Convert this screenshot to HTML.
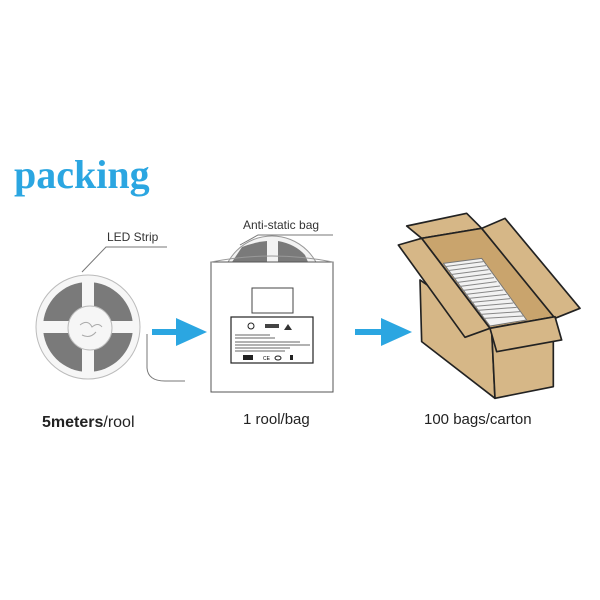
<!DOCTYPE html>
<html><head><meta charset="utf-8"><style>
html,body{margin:0;padding:0;background:#fff;width:600px;height:600px;overflow:hidden}
</style></head><body>
<svg width="600" height="600" viewBox="0 0 600 600" xmlns="http://www.w3.org/2000/svg">
<rect width="600" height="600" fill="#fff"/>
<text x="14" y="188" font-family="Liberation Serif, serif" font-weight="bold" font-size="40" fill="#2ba6e1">packing</text>

<!-- reel -->
<g>
<circle cx="88" cy="327" r="52" fill="#f6f6f6" stroke="#bbb" stroke-width="1"/>
<circle cx="88" cy="327" r="45" fill="#7a7a7a"/>
<rect x="82" y="279" width="12" height="96" fill="#f6f6f6"/>
<rect x="40" y="321" width="96" height="12" fill="#f6f6f6"/>
<circle cx="90" cy="328" r="22" fill="#f6f6f6" stroke="#bbb"/>
<path d="M80 325 q8 -6 12 2 q6 -5 10 0 M82 335 q8 4 14 -3" stroke="#aaa" fill="none"/>
</g>
<text x="107" y="241" font-family="Liberation Sans, sans-serif" font-size="12" fill="#333">LED Strip</text>
<polyline points="82,272 106,247 167,247" fill="none" stroke="#777" stroke-width="1"/>
<path d="M147 334 L147 368 Q148 381 165 381 L185 381" fill="none" stroke="#777" stroke-width="1"/>

<!-- arrow1 -->
<rect x="152" y="329" width="28" height="6" fill="#2ba6e1"/>
<polygon points="176,318 207,332 176,346" fill="#2ba6e1"/>

<!-- bag -->
<circle cx="272" cy="286" r="50" fill="#f3f3f3" stroke="#999"/>
<path d="M232 262 L242 247 Q255 242 267 241 L267 262 Z" fill="#7a7a7a"/>
<path d="M278 262 L278 241 Q295 244 305 255 L308 262 Z" fill="#7a7a7a"/>
<rect x="211" y="262" width="122" height="130" fill="#fff" stroke="#555" stroke-width="1"/>
<path d="M211 262 Q272 250 333 262" fill="none" stroke="#999"/>
<rect x="252" y="288" width="41" height="25" fill="#fff" stroke="#444"/>
<rect x="231" y="317" width="82" height="46" fill="#fff" stroke="#222" stroke-width="1.2"/>
<circle cx="251" cy="326" r="3" fill="none" stroke="#222"/>
<rect x="265" y="324" width="14" height="4" fill="#444"/>
<polygon points="288,324 292,330 284,330" fill="#333"/>
<g stroke="#666" stroke-width="1">
<line x1="235" y1="335" x2="270" y2="335"/><line x1="235" y1="338" x2="275" y2="338"/>
<line x1="235" y1="342" x2="300" y2="342"/><line x1="235" y1="345" x2="310" y2="345"/>
<line x1="235" y1="348" x2="290" y2="348"/><line x1="235" y1="351" x2="285" y2="351"/>
</g>
<rect x="243" y="355" width="10" height="5" fill="#222"/>
<text x="263" y="360" font-size="5" font-family="Liberation Sans, sans-serif">CE</text>
<ellipse cx="278" cy="358" rx="3" ry="2" fill="none" stroke="#222"/>
<rect x="290" y="355" width="3" height="5" fill="#222"/>
<text x="243" y="229" font-family="Liberation Sans, sans-serif" font-size="12" fill="#333">Anti-static bag</text>
<polyline points="240,245 258,235 333,235" fill="none" stroke="#777" stroke-width="1"/>

<!-- arrow2 -->
<rect x="355" y="329" width="28" height="6" fill="#2ba6e1"/>
<polygon points="381,318 412,332 381,346" fill="#2ba6e1"/>

<!-- box -->
<g transform="translate(380,200) scale(0.3333)" stroke="#222" stroke-width="5" stroke-linejoin="round" fill="#d6b787">
<polygon points="120,240 335,390 345,595 125,425"/>
<polygon points="335,390 520,380 520,560 345,595"/>
<polygon points="80,78 260,40 305,85 125,115"/>
<polygon points="125,115 305,85 525,350 330,385" fill="#c9a46d"/>
<polygon points="190,190 305,175 440,360 330,378" fill="#f2f2f2" stroke="#777" stroke-width="3"/>
<g stroke="#888" stroke-width="3">
<line x1="195" y1="200" x2="310" y2="185"/><line x1="203" y1="212" x2="318" y2="197"/>
<line x1="211" y1="224" x2="326" y2="209"/><line x1="219" y1="236" x2="334" y2="221"/>
<line x1="227" y1="248" x2="342" y2="233"/><line x1="235" y1="260" x2="350" y2="245"/>
<line x1="243" y1="272" x2="360" y2="258"/><line x1="251" y1="284" x2="370" y2="270"/>
<line x1="259" y1="296" x2="380" y2="283"/><line x1="267" y1="308" x2="390" y2="296"/>
<line x1="275" y1="320" x2="400" y2="309"/><line x1="283" y1="332" x2="410" y2="322"/>
<line x1="291" y1="344" x2="420" y2="335"/><line x1="299" y1="356" x2="430" y2="348"/>
</g>
<polygon points="55,135 125,115 330,385 255,412"/>
<polygon points="305,85 375,55 600,325 525,355"/>
<polygon points="330,385 525,350 545,420 350,455"/>
</g>

<text x="42" y="427" font-family="Liberation Sans, sans-serif" font-size="16" fill="#222"><tspan font-weight="bold">5meters</tspan>/rool</text>
<text x="243" y="424" font-family="Liberation Sans, sans-serif" font-size="15" fill="#222">1 rool/bag</text>
<text x="424" y="424" font-family="Liberation Sans, sans-serif" font-size="15" fill="#222">100 bags/carton</text>
</svg>
</body></html>
